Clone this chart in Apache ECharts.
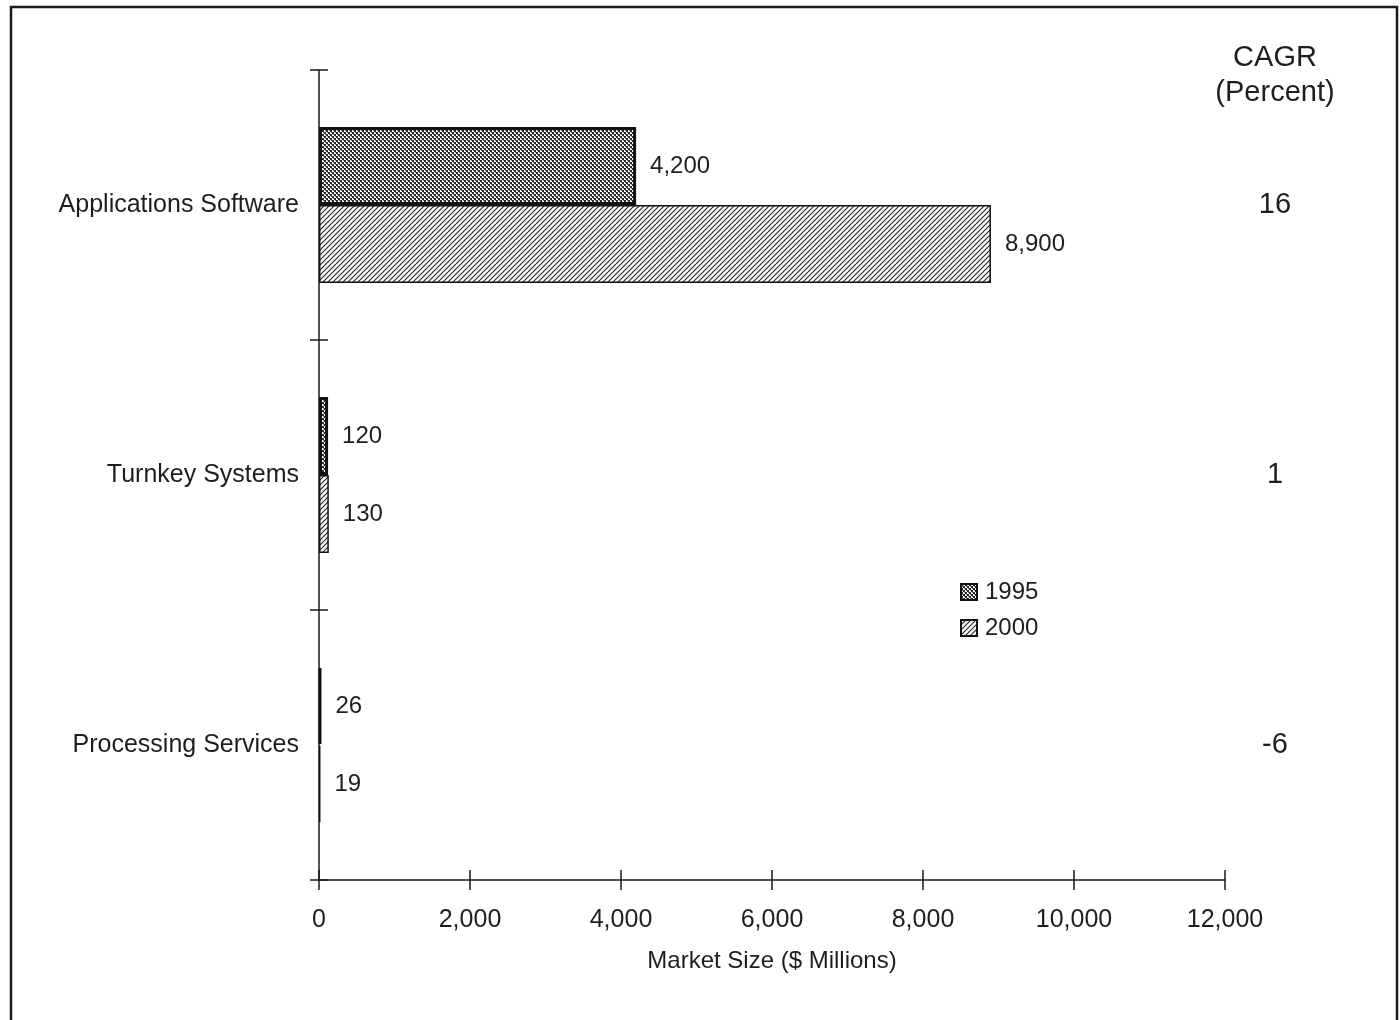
<!DOCTYPE html>
<html>
<head>
<meta charset="utf-8">
<script src="https://cdn.jsdelivr.net/npm/echarts@6/dist/echarts.min.js"></script>
<style>
html,body{margin:0;padding:0;background:#fff;}
#chart{width:1400px;height:1020px;}
</style>
</head>
<body>
<div id="chart"></div>
<script>
const categories = ['Applications Software', 'Turnkey Systems', 'Processing Services'];
const values1995 = [4200, 120, 26];
const values2000 = [8900, 130, 19];
const cagr = ['16', '1', '-6'];
const seriesNames = ['1995', '2000'];
const xTickMin = 0, xTickMax = 12000, xTickStep = 2000;

function crossPattern() {
  const c = document.createElement('canvas');
  c.width = 4; c.height = 4;
  const g = c.getContext('2d');
  g.fillStyle = '#ffffff'; g.fillRect(0, 0, 4, 4);
  g.fillStyle = '#2a2a2a';
  g.fillRect(0, 0, 2, 2); g.fillRect(2, 2, 2, 2);
  g.fillStyle = '#777';
  g.fillRect(1, 2, 1, 1); g.fillRect(3, 0, 1, 1);
  return c;
}
function hatchPattern() {
  const s = 5;
  const c = document.createElement('canvas');
  c.width = s; c.height = s;
  const g = c.getContext('2d');
  g.fillStyle = '#ffffff'; g.fillRect(0, 0, s, s);
  g.strokeStyle = '#222'; g.lineWidth = 1.1;
  g.beginPath();
  g.moveTo(-1, s + 1); g.lineTo(s + 1, -1);
  g.moveTo(-1, 1); g.lineTo(1, -1);
  g.moveTo(s - 1, s + 1); g.lineTo(s + 1, s - 1);
  g.stroke();
  return c;
}

const font = '"Liberation Sans", Arial, Helvetica, sans-serif';
const txt = '#1e1e1e';
const gridPos = { left: 319, right: 175, top: 70, bottom: 140 };

const chart = echarts.init(document.getElementById('chart'));
const fmt = p => Number(p.value).toLocaleString('en-US');

chart.setOption({
  backgroundColor: '#fff',
  animation: false,
  textStyle: { fontFamily: font, color: txt },
  grid: [Object.assign({}, gridPos), Object.assign({}, gridPos)],
  legend: {
    orient: 'vertical', left: 955, top: 575, icon: 'rect', itemWidth: 16, itemHeight: 16, itemGap: 12,
    textStyle: { fontSize: 24, color: txt, fontFamily: font, padding: [0, 0, 0, 3] },
    data: seriesNames
  },
  xAxis: [
    {
      gridIndex: 0, type: 'value', min: xTickMin, max: xTickMax, interval: xTickStep,
      name: 'Market Size ($ Millions)', nameLocation: 'middle', nameGap: 69,
      nameTextStyle: { fontSize: 24, color: txt, fontFamily: font },
      axisLine: { show: true, lineStyle: { color: '#1a1a1a', width: 1.5 } },
      axisTick: { show: true, inside: false, length: 10, lineStyle: { color: '#1a1a1a', width: 1.5 } },
      axisLabel: { fontSize: 25, color: txt, margin: 28, fontFamily: font,
        formatter: v => Number(v).toLocaleString('en-US') },
      splitLine: { show: false }
    },
    {
      gridIndex: 1, type: 'value', min: xTickMin, max: xTickMax, interval: xTickStep,
      axisLine: { show: false },
      axisTick: { show: true, inside: true, length: 10, lineStyle: { color: '#1a1a1a', width: 1.5 } },
      axisLabel: { show: false }, splitLine: { show: false }
    }
  ],
  yAxis: [
    {
      gridIndex: 0, type: 'category', data: categories, inverse: true,
      axisLine: { show: true, lineStyle: { color: '#1a1a1a', width: 1.5 } },
      axisTick: { show: true, inside: false, length: 9, lineStyle: { color: '#1a1a1a', width: 1.5 } },
      axisLabel: { fontSize: 25, color: txt, margin: 20, fontFamily: font }
    },
    {
      gridIndex: 0, type: 'category', data: cagr, inverse: true, position: 'right',
      axisLine: { show: false }, axisTick: { show: false },
      axisLabel: { fontSize: 29, color: txt, margin: 50, align: 'center', fontFamily: font }
    },
    {
      gridIndex: 1, type: 'category', data: categories, inverse: true,
      axisLine: { show: false },
      axisTick: { show: true, inside: true, length: 9, lineStyle: { color: '#1a1a1a', width: 1.5 } },
      axisLabel: { show: false }
    }
  ],
  series: [
    {
      name: seriesNames[0], type: 'bar', xAxisIndex: 0, yAxisIndex: 0,
      data: values1995, barWidth: 78, barGap: '0%',
      itemStyle: { color: { image: crossPattern(), repeat: 'repeat' }, borderColor: '#111', borderWidth: 3 },
      label: { show: true, position: 'right', distance: 14, fontSize: 24, color: txt, fontFamily: font, formatter: fmt }
    },
    {
      name: seriesNames[1], type: 'bar', xAxisIndex: 0, yAxisIndex: 0,
      data: values2000, barWidth: 78, barGap: '0%',
      itemStyle: { color: { image: hatchPattern(), repeat: 'repeat' }, borderColor: '#111', borderWidth: 1.5 },
      label: { show: true, position: 'right', distance: 14, fontSize: 24, color: txt, fontFamily: font, formatter: fmt }
    }
  ],
  graphic: [
    { type: 'rect', silent: true, shape: { x: 11, y: 7, width: 1386, height: 1040 },
      style: { fill: 'none', stroke: '#1a1a1a', lineWidth: 2.5 } },
    { type: 'text', silent: true, x: 1275, y: 58,
      style: { text: 'CAGR', font: '29px ' + font, fill: txt, align: 'center', verticalAlign: 'middle' } },
    { type: 'text', silent: true, x: 1275, y: 93,
      style: { text: '(Percent)', font: '29px ' + font, fill: txt, align: 'center', verticalAlign: 'middle' } }
  ]
});
</script>
</body>
</html>
